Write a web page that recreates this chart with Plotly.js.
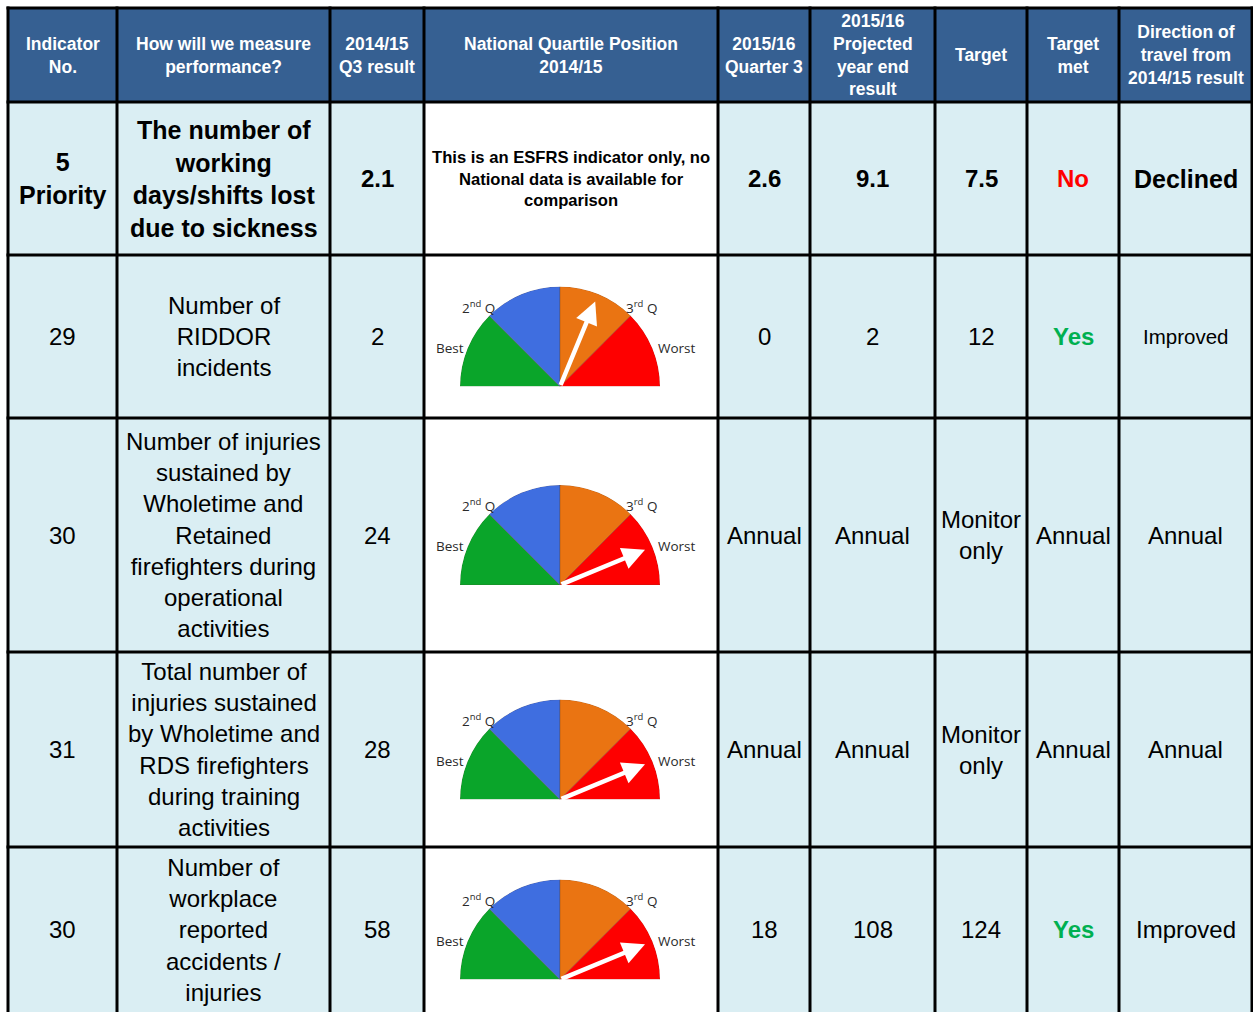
<!DOCTYPE html>
<html>
<head>
<meta charset="utf-8">
<script src="https://cdn.plot.ly/plotly-3.0.1.min.js"></script>
<style>html,body{margin:0;padding:0;background:#fff;}#chart{width:1253px;height:1012px;}</style>
</head>
<body>
<div id="chart"></div>
<script>
// ---------------- data ----------------
const HEADERS = ['Indicator<br>No.', 'How will we measure<br>performance?', '2014/15<br>Q3 result',
  'National Quartile Position<br>2014/15', '2015/16<br>Quarter 3', '2015/16<br>Projected<br>year end<br>result',
  'Target', 'Target<br>met', 'Direction of<br>travel from<br>2014/15 result'];
const INDICATOR_NO = ['5<br>Priority', '29', '30', '31', '30'];
const MEASURE = [
  'The number of<br>working<br>days/shifts lost<br>due to sickness',
  'Number of<br>RIDDOR<br>incidents',
  'Number of injuries<br>sustained by<br>Wholetime and<br>Retained<br>firefighters during<br>operational<br>activities',
  'Total number of<br>injuries sustained<br>by Wholetime and<br>RDS firefighters<br>during training<br>activities',
  'Number of<br>workplace<br>reported<br>accidents /<br>injuries'];
const Q3_2014 = ['2.1', '2', '24', '28', '58'];
const QUARTILE_NOTE = ['This is an ESFRS indicator only, no<br>National data is available for<br>comparison', null, null, null, null];
const NEEDLE = [null, 2.5, 3.5, 3.5, 3.5];          // position on 0 (best) .. 4 (worst) scale
const Q3_2015 = ['2.6', '0', 'Annual', 'Annual', '18'];
const PROJECTED = ['9.1', '2', 'Annual', 'Annual', '108'];
const TARGET = ['7.5', '12', 'Monitor<br>only', 'Monitor<br>only', '124'];
const TARGET_MET = ['No', 'Yes', 'Annual', 'Annual', 'Yes'];
const DIRECTION = ['Declined', 'Improved', 'Annual', 'Annual', 'Improved'];
const QUARTILES = ['Best', '2<sup>nd</sup> Q', '3<sup>rd</sup> Q', 'Worst'];
const QUARTILE_BAND = [1, 1, 1, 1];

// ---------------- layout / styles ----------------
const W = 1253, H = 1012;
const COL_EDGES = [8, 117, 330, 424, 718, 810, 935, 1027, 1119, 1252];
const ROW_EDGES = [8, 102, 255, 418, 652, 847, 1012];
const HEADER_FILL = '#366092', BODY_FILL = '#DAEEF3';
const QCOLORS = ['#0aa52a', '#3f6ee0', '#ea7412', '#fe0000'];
const FONT = 'Liberation Sans, Arial, sans-serif';
const R = 100, NEEDLE_LEN = 92;

const shapes = [], annotations = [], traces = [];
const layout = {
  width: W, height: H, autosize: false,
  margin: {l: 0, r: 0, t: 0, b: 0, pad: 0},
  paper_bgcolor: '#ffffff', plot_bgcolor: 'rgba(0,0,0,0)',
  showlegend: false,
  xaxis: {range: [0, W], visible: false, fixedrange: true},
  yaxis: {range: [H, 0], visible: false, fixedrange: true},
  shapes: shapes, annotations: annotations
};

const colMid = c => (COL_EDGES[c] + COL_EDGES[c + 1]) / 2;
const rowMid = r => (ROW_EDGES[r] + ROW_EDGES[r + 1]) / 2;

// cell fills
for (let r = 0; r < ROW_EDGES.length - 1; r++) {
  for (let c = 0; c < COL_EDGES.length - 1; c++) {
    let fill = r === 0 ? HEADER_FILL : (c === 3 ? '#ffffff' : BODY_FILL);
    shapes.push({type: 'rect', xref: 'x', yref: 'y', layer: 'below',
      x0: COL_EDGES[c], x1: COL_EDGES[c + 1], y0: ROW_EDGES[r], y1: ROW_EDGES[r + 1],
      fillcolor: fill, line: {width: 0}});
  }
}
// grid lines
COL_EDGES.forEach(x => shapes.push({type: 'line', xref: 'x', yref: 'y', layer: 'below',
  x0: x, x1: x, y0: ROW_EDGES[0] - 1.5, y1: H, line: {color: '#000', width: 3}}));
ROW_EDGES.slice(0, -1).forEach(y => shapes.push({type: 'line', xref: 'x', yref: 'y', layer: 'below',
  x0: COL_EDGES[0] - 1.5, x1: COL_EDGES[COL_EDGES.length - 1] + 1.5, y0: y, y1: y, line: {color: '#000', width: 3}}));

function txt(c, r, text, size, opts) {
  opts = opts || {};
  annotations.push({xref: 'x', yref: 'y', x: colMid(c), y: rowMid(r), text: text,
    showarrow: false, xanchor: 'center', yanchor: 'middle', align: 'center',
    font: {family: FONT, size: size, color: opts.color || '#000'}});
}
const B = s => '<b>' + s + '</b>';

// header
HEADERS.forEach((h, c) => txt(c, 0, B(h), 17.5, {color: '#ffffff'}));

// body
const metColor = v => v === 'Yes' ? '#00b050' : (v === 'No' ? '#ff0000' : '#000');
for (let i = 0; i < INDICATOR_NO.length; i++) {
  const r = i + 1;
  const bold = i === 0;
  const f = s => bold ? B(s) : s;
  const big = bold ? 25 : 24;
  txt(0, r, f(INDICATOR_NO[i]), big);
  txt(1, r, f(MEASURE[i]), big);
  txt(2, r, f(Q3_2014[i]), 24);
  if (QUARTILE_NOTE[i]) txt(3, r, B(QUARTILE_NOTE[i]), 16.6);
  txt(4, r, f(Q3_2015[i]), 24);
  txt(5, r, f(PROJECTED[i]), 24);
  txt(6, r, f(TARGET[i]), 24);
  const met = TARGET_MET[i];
  txt(7, r, (met === 'Yes' || met === 'No') ? B(met) : met, 24, {color: metColor(met)});
  txt(8, r, f(DIRECTION[i]), (i === 1) ? 20.5 : big);

  // gauge
  if (NEEDLE[i] !== null) {
    const cx = colMid(3) - 11, cy = rowMid(r) + 50;
    const key = 'polar' + (traces.length ? traces.length + 1 : '');
    layout[key] = {
      domain: {x: [(cx - R) / W, (cx + R) / W], y: [1 - cy / H, 1 - (cy - R) / H]},
      sector: [0, 180], bgcolor: 'rgba(0,0,0,0)', hole: 0,
      angularaxis: {visible: false, showticklabels: false, ticks: '', showgrid: false, showline: false,
        direction: 'counterclockwise', rotation: 0},
      radialaxis: {visible: false, showticklabels: false, ticks: '', showgrid: false, showline: false,
        range: [0, 1]}
    };
    traces.push({type: 'barpolar', subplot: key,
      r: QUARTILE_BAND,
      theta: QUARTILE_BAND.map((_, k) => 180 - 45 * (k + 0.5)),
      width: QUARTILE_BAND.map(() => 45),
      marker: {color: QCOLORS, line: {width: 0.6, color: 'rgba(90,60,40,0.5)'}},
      hoverinfo: 'skip'});
    // labels
    const lab = [[-110, -39], [-82, -80], [81, -80], [117, -39]];
    QUARTILES.forEach((q, k) => annotations.push({xref: 'x', yref: 'y',
      x: cx + lab[k][0], y: cy + lab[k][1], text: q, showarrow: false,
      xanchor: 'center', yanchor: 'middle',
      font: {family: 'Open Sans, DejaVu Sans, sans-serif', size: 13.5, color: '#2a2a2a'}}));
    // needle
    const a = (180 - 45 * NEEDLE[i]) * Math.PI / 180;
    annotations.push({xref: 'x', yref: 'y', axref: 'x', ayref: 'y',
      x: cx + NEEDLE_LEN * Math.cos(a), y: cy - NEEDLE_LEN * Math.sin(a),
      ax: cx, ay: cy, text: '', showarrow: true,
      arrowhead: 2, arrowsize: 1, arrowwidth: 4.5, arrowcolor: '#ffffff', standoff: 0, startstandoff: 0});
  }
}

Plotly.newPlot('chart', traces, layout, {staticPlot: true, displayModeBar: false});
</script>
</body>
</html>
